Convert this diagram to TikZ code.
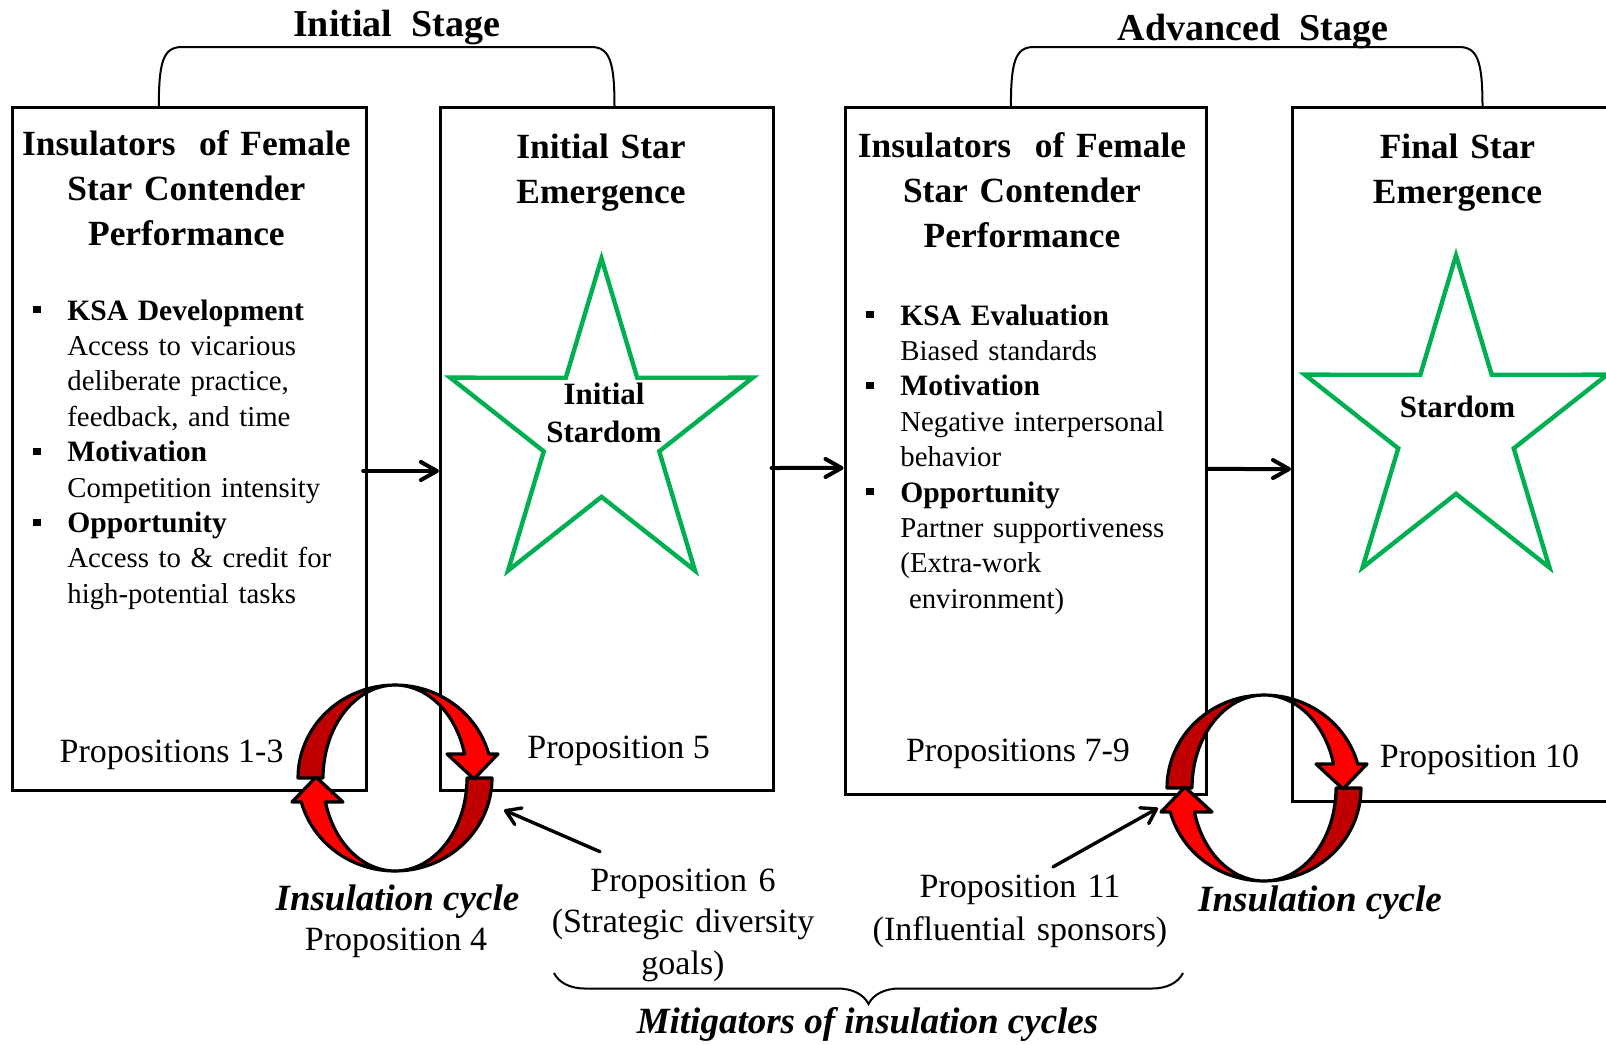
\documentclass[tikz,border=0pt]{standalone}
\usepackage{fontspec}
\setmainfont{Liberation Serif}
\usepackage{tikz}
\usetikzlibrary{arrows.meta, positioning, decorations.pathreplacing, calc}
\definecolor{stargreen}{RGB}{0,176,80}
\definecolor{cyclered}{RGB}{255,0,0}
\definecolor{cycledark}{RGB}{192,0,0}
\newcommand{\boxtitlefont}{\fontsize{17.7}{22.5}\selectfont\bfseries}
\newcommand{\boxbodyfont}{\fontsize{14.4}{17.7}\selectfont}
\newcommand{\propfont}{\fontsize{17}{20.8}\selectfont}
\newcommand{\stagefont}{\fontsize{19}{23}\selectfont\bfseries}
\newcommand{\cyclefont}{\fontsize{18.5}{22}\selectfont\bfseries\itshape}
\newcommand{\bhead}[1]{\leavevmode\llap{\rule[3.3pt]{4.2pt}{3.6pt}\hspace{13.2pt}}{\fontsize{14.8}{17.7}\selectfont\bfseries #1}}
\tikzset{
  panel/.style={draw, line width=1.5pt, inner sep=0pt},
  boxtitle/.style={font=\boxtitlefont, align=center, text width=175pt, inner sep=0pt, anchor=base},
  boxbody/.style={font=\boxbodyfont, align=left, text width=150pt, inner sep=0pt, anchor=base west},
  proplabel/.style={font=\propfont, inner sep=0pt},
  cyclelabel/.style={font=\cyclefont, inner sep=0pt},
  flow/.style={line width=2pt, line cap=round, -{Straight Barb[length=8pt, width=9pt, round]}},
  pointer/.style={line width=1.7pt, line cap=round, -{Straight Barb[length=7pt, width=9pt, round]}},
  starline/.style={draw=stargreen, line width=2.2pt},
  stagebrace/.style={line width=1pt},
  mitbrace/.style={decorate, decoration={brace, mirror, amplitude=15.5pt}, line width=1pt},
  cycback/.style={fill=cycledark, draw=black, line width=1.6pt, line join=round},
  cyclefront/.style={fill=cyclered, draw=black, line width=1.6pt, line join=round},
  stardom/.pic={
    \draw[starline, yscale=1.085] (-90:159) \foreach \a in {-54,18,90,162,234} { -- (\a:60.7) -- ({\a+36}:159) } -- cycle;
  },
  inscycle/.pic={
    \foreach \r in {0,180}{
      \begin{scope}[rotate=\r]
        \filldraw[cycback] plot[domain=270:180, samples=25] ({97*cos(\x)},{93*sin(\x)})
          -- plot[domain=180:270, samples=25] ({72*cos(\x)},{93*sin(\x)}) -- cycle;
        \filldraw[cyclefront] plot[domain=90:165, samples=25] ({97*cos(\x)},{93*sin(\x)})
          -- (-103,24) -- (-79,-1) -- (-52,24)
          -- plot[domain=165:90, samples=25] ({72*cos(\x)},{93*sin(\x)}) -- cycle;
      \end{scope}
    }
  }
}

\begin{document}
\begin{tikzpicture}[x=0.5pt, y=-0.5pt]
    \useasboundingbox (0,0) rectangle (1606,1044);

    % Boxes
    \node[panel, minimum width=177.2pt, minimum height=341.6pt] (ins1) at (189.5,449.1) {};
    \node[panel, minimum width=166.45pt, minimum height=341.6pt] (emg1) at (606.85,449.1) {};
    \node[panel, minimum width=180.75pt, minimum height=343.65pt] (ins2) at (1025.75,451.15) {};
    \node[panel, minimum width=210pt, minimum height=346.75pt] (emg2) at (1502.5,454.25) {};

    % Stage brackets
    \draw[stagebrace] (158.8,107.5) .. controls (158.8,62) and (163,47) .. (182,47) -- (591,47)
        .. controls (610,47) and (614.5,62) .. (614.5,107.5);
    \draw[stagebrace] (1010.9,107.5) .. controls (1010.9,62) and (1015,47) .. (1034,47) -- (1459,47)
        .. controls (1478,47) and (1482.5,62) .. (1482.5,107.5);
    \node[font=\stagefont, anchor=base, inner sep=0pt] (initstage) at (396.6,36) {Initial~ Stage};
    \node[font=\stagefont, anchor=base, inner sep=0pt] (advstage) at (1253,40) {Advanced~ Stage};

    % Titles
    \node[boxtitle] (ins1title) at (186.4,155) {Insulators~ of Female\\Star Contender\\Performance};
    \node[boxtitle] (emg1title) at (601,158.5) {Initial Star\\Emergence};
    \node[boxtitle] (ins2title) at (1022,157.4) {Insulators~ of Female\\Star Contender\\Performance};
    \node[boxtitle] (emg2title) at (1457.5,158.5) {Final Star\\Emergence};

    % Insulators
    \node[boxbody] (ins1body) at (67,320) {\bhead{KSA Development}\\
        Access to vicarious\\deliberate practice,\\feedback, and time\\
        \bhead{Motivation}\\Competition intensity\\
        \bhead{Opportunity}\\Access to \& credit for\\high-potential tasks};
    \node[boxbody] (ins2body) at (900,325) {\bhead{KSA Evaluation}\\Biased standards\\
        \bhead{Motivation}\\Negative interpersonal\\behavior\\
        \bhead{Opportunity}\\Partner supportiveness\\(Extra-work\\\hspace*{0.3em}environment)};

    % Stars
    \pic at (601.5,431) {stardom};
    \pic at (1456,428) {stardom};
    \node[font=\fontsize{15.5}{19}\selectfont\bfseries, align=center, text width=80pt, inner sep=0pt] (star1lbl) at (604,413) {Initial\\Stardom};
    \node[font=\fontsize{15.5}{19}\selectfont\bfseries, inner sep=0pt] (star2lbl) at (1457.5,406.6) {Stardom};

    % Propositions
    \node[proplabel] (prop13) at (171.6,754.8) {Propositions 1-3};
    \node[proplabel] (prop5) at (618.6,750.7) {Proposition 5};
    \node[proplabel] (prop79) at (1018,753.8) {Propositions 7-9};
    \node[proplabel] (prop10) at (1479.5,760) {Proposition 10};

    % Arrows between boxes
    \draw[flow] ([xshift=-2.5pt,yshift=-10.95pt]ins1.east) -- ([yshift=-10.95pt]emg1.west);
    \draw[flow] ([xshift=-1.6pt,yshift=-9.45pt]emg1.east) -- ([yshift=-8.4pt]ins2.west);
    \draw[flow] ([yshift=-8.9pt]ins2.east) -- ([yshift=-7.4pt]emg2.west);

    % Insulation cycles
    \pic at (395,778) {inscycle};
    \pic at (1264,788) {inscycle};
    \node[cyclelabel] (cyc1lbl) at (397.4,901.3) {Insulation cycle};
    \node[proplabel] (prop4) at (396,943) {Proposition 4};
    \node[cyclelabel] (cyc2lbl) at (1320,902.3) {Insulation cycle};

    % Mitigators
    \node[proplabel, anchor=base, align=center, text width=150pt] (prop6) at (683,891) {Proposition 6\\(Strategic diversity\\goals)};
    \node[proplabel, anchor=base, align=center, text width=170pt, font=\fontsize{17}{21.5}\selectfont] (prop11) at (1020,897) {Proposition 11\\(Influential sponsors)};
    \coordinate (cyc1tip) at (504,810);
    \coordinate (cyc2tip) at (1158,808);
    \draw[pointer] ([xshift=-41.5pt,yshift=8.2pt]prop6.north) -- (cyc1tip);
    \draw[pointer] ([xshift=16.5pt,yshift=3.6pt]prop11.north) -- (cyc2tip);

    % Brace
    \draw[mitbrace] (554,973) -- (1183,973);
    \node[cyclelabel] (mitlbl) at (867.5,1024) {Mitigators of insulation cycles};
\end{tikzpicture}
\end{document}
